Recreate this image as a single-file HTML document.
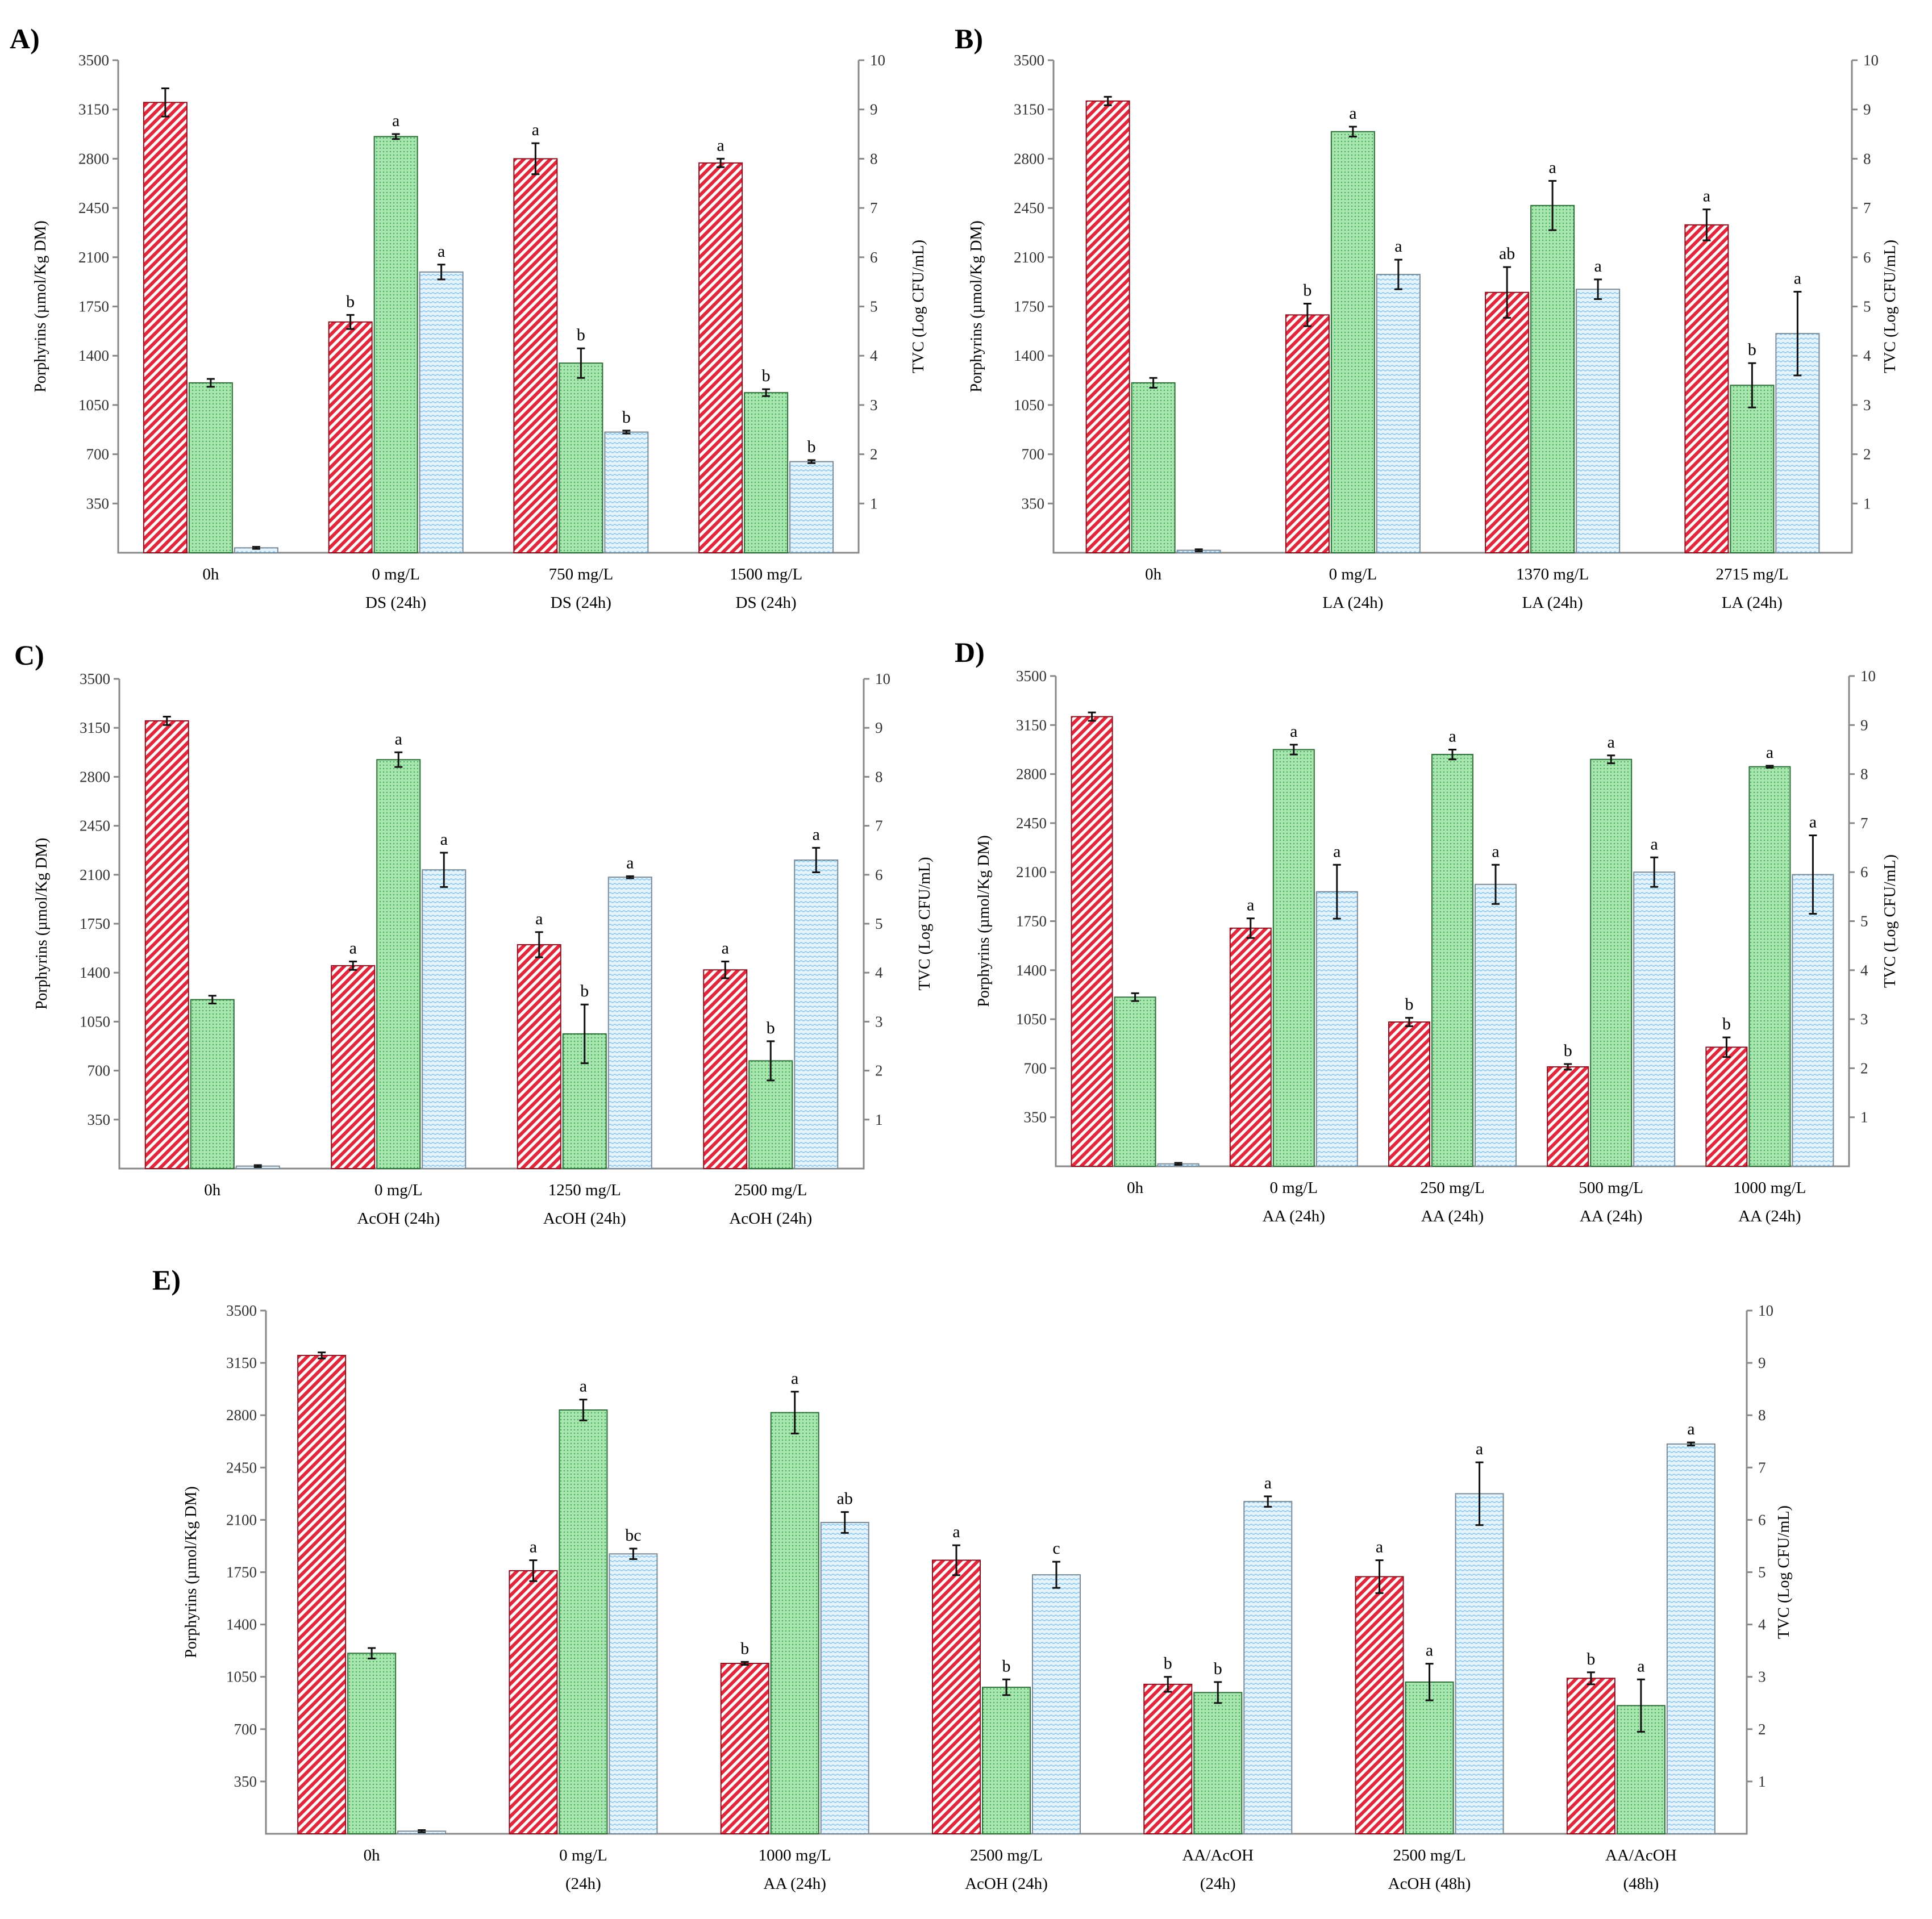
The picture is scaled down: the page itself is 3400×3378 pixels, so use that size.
<!DOCTYPE html>
<html><head><meta charset="utf-8"><style>
html,body{margin:0;padding:0;background:#fff;}
svg{display:block;font-family:"Liberation Serif",serif;}
</style></head>
<body>
<svg id="fig" width="3400" height="3378" viewBox="0 0 3400 3378" xmlns="http://www.w3.org/2000/svg">
<defs>
<pattern id="pRed" patternUnits="userSpaceOnUse" width="11" height="11" patternTransform="rotate(45)">
<rect width="11" height="11" fill="#fff"/><rect width="6" height="11" fill="#e0283c"/></pattern>
<pattern id="pGreen" patternUnits="userSpaceOnUse" width="6" height="6">
<rect width="6" height="6" fill="#a8e6b0"/><circle cx="3" cy="3" r="1.2" fill="#4aa85a"/></pattern>
<pattern id="pBlue" patternUnits="userSpaceOnUse" width="8" height="8">
<rect width="8" height="8" fill="#e4f3fc"/><path d="M0 4 Q2 2 4 4 T8 4" stroke="#7fc3ee" stroke-width="1.4" fill="none"/></pattern>
</defs>
</svg>
<script>
// Panel A
const catsA=[["0h"],["0 mg/L","DS (24h)"],["750 mg/L","DS (24h)"],["1500 mg/L","DS (24h)"]];
const redA=[3200,1640,2800,2770];
const greenA=[3.45,8.45,3.85,3.25];
const blueA=[0.1,5.7,2.45,1.85];
const redErrA=[100,50,110,30];
const greenErrA=[0.08,0.05,0.3,0.07];
const blueErrA=[0.02,0.15,0.03,0.03];
const redLetA=["","b","a","a"];
const greenLetA=["","a","b","b"];
const blueLetA=["","a","b","b"];
// Panel B
const catsB=[["0h"],["0 mg/L","LA (24h)"],["1370 mg/L","LA (24h)"],["2715 mg/L","LA (24h)"]];
const redB=[3210,1690,1850,2330];
const greenB=[3.45,8.55,7.05,3.4];
const blueB=[0.05,5.65,5.35,4.45];
const redErrB=[30,80,180,110];
const greenErrB=[0.1,0.1,0.5,0.45];
const blueErrB=[0.02,0.3,0.2,0.85];
const redLetB=["","b","ab","a"];
const greenLetB=["","a","a","b"];
const blueLetB=["","a","a","a"];
// Panel C
const catsC=[["0h"],["0 mg/L","AcOH (24h)"],["1250 mg/L","AcOH (24h)"],["2500 mg/L","AcOH (24h)"]];
const redC=[3200,1450,1600,1420];
const greenC=[3.45,8.35,2.75,2.2];
const blueC=[0.05,6.1,5.95,6.3];
const redErrC=[30,30,90,60];
const greenErrC=[0.08,0.15,0.6,0.4];
const blueErrC=[0.02,0.35,0.02,0.25];
const redLetC=["","a","a","a"];
const greenLetC=["","a","b","b"];
const blueLetC=["","a","a","a"];
// Panel D
const catsD=[["0h"],["0 mg/L","AA (24h)"],["250 mg/L","AA (24h)"],["500 mg/L","AA (24h)"],["1000 mg/L","AA (24h)"]];
const redD=[3210,1700,1030,710,850];
const greenD=[3.45,8.5,8.4,8.3,8.15];
const blueD=[0.05,5.6,5.75,6.0,5.95];
const redErrD=[30,70,30,20,70];
const greenErrD=[0.08,0.1,0.1,0.08,0.02];
const blueErrD=[0.02,0.55,0.4,0.3,0.8];
const redLetD=["","a","b","b","b"];
const greenLetD=["","a","a","a","a"];
const blueLetD=["","a","a","a","a"];
// Panel E
const catsE=[["0h"],["0 mg/L","(24h)"],["1000 mg/L","AA (24h)"],["2500 mg/L","AcOH (24h)"],["AA/AcOH","(24h)"],["2500 mg/L","AcOH (48h)"],["AA/AcOH","(48h)"]];
const redE=[3200,1760,1140,1830,1000,1720,1040];
const greenE=[3.45,8.1,8.05,2.8,2.7,2.9,2.45];
const blueE=[0.05,5.35,5.95,4.95,6.35,6.5,7.45];
const redErrE=[20,70,10,100,50,110,40];
const greenErrE=[0.1,0.2,0.4,0.15,0.2,0.35,0.5];
const blueErrE=[0.02,0.1,0.2,0.25,0.1,0.6,0.03];
const redLetE=["","a","b","a","b","a","b"];
const greenLetE=["","a","a","b","b","a","a"];
const blueLetE=["","bc","ab","c","a","a","a"];

const leftTicks=[350,700,1050,1400,1750,2100,2450,2800,3150,3500];
const rightTicks=[1,2,3,4,5,6,7,8,9,10];

const NS="http://www.w3.org/2000/svg";
const svg=document.getElementById("fig");
function mk(tag,attrs,parent,text){const e=document.createElementNS(NS,tag);for(const k in attrs)e.setAttribute(k,attrs[k]);if(text!==undefined)e.textContent=text;(parent||svg).appendChild(e);return e;}

function panel(p){
  const g=mk("g",{});
  
  
  const yL=v=>p.base-(v/3500)*(p.base-p.top);
  const yR=v=>p.base-(v/10)*(p.base-p.top);
  const lab=mk("text",{x:p.labX,y:p.labY,"font-size":50,"font-weight":"bold"},g,p.id+")");
  
  
  const ax=mk("path",{d:`M${p.left} ${p.top}V${p.base}H${p.right}V${p.top}`,stroke:"#888",fill:"none","stroke-width":3},g);
  
  
  leftTicks.forEach(t=>{
    const y=yL(t);
    mk("line",{x1:p.left-10,x2:p.left,y1:y,y2:y,stroke:"#888","stroke-width":3},g);
    const tx=mk("text",{x:p.left-16,y:y+9,"font-size":27,"text-anchor":"end",fill:"#333"},g,t);
    
    
  });
  rightTicks.forEach(t=>{
    const y=yR(t);
    mk("line",{x1:p.right,x2:p.right+10,y1:y,y2:y,stroke:"#888","stroke-width":3},g);
    const tx=mk("text",{x:p.right+20,y:y+9,"font-size":27,fill:"#333"},g,t);
    
    
  });
  const mid=(p.top+p.base)/2;
  const lt=mk("text",{x:0,y:0,"font-size":28,"text-anchor":"middle",transform:`translate(${p.ylX},${mid}) rotate(-90)`},g,"Porphyrins (µmol/Kg DM)");
  
  
  const rt=mk("text",{x:0,y:0,"font-size":28,"text-anchor":"middle",transform:`translate(${p.yrX},${mid}) rotate(-90)`},g,"TVC (Log CFU/mL)");
  
  
  const n=p.cats.length;
  const step=(p.right-p.left)/n;
  const bw=p.bw;
  const series=[
    {v:p.red,e:p.redErr,l:p.redLet,fill:"url(#pRed)",stroke:"#8a1020",y:yL,name:"porphyrins-bar"},
    {v:p.green,e:p.greenErr,l:p.greenLet,fill:"url(#pGreen)",stroke:"#2e6e38",y:yR,name:"tvc-24h-bar"},
    {v:p.blue,e:p.blueErr,l:p.blueLet,fill:"url(#pBlue)",stroke:"#7a8a96",y:yR,name:"tvc-bar"}
  ];
  for(let i=0;i<n;i++){
    const cx=p.left+step*(i+0.5);
    series.forEach((s,k)=>{
      const x=cx+(k-1.5)*bw+(k-1)*4;
      const y=s.y(s.v[i]);
      const r=mk("rect",{x:x,y:y,width:bw,height:p.base-y,fill:s.fill,stroke:s.stroke,"stroke-width":2},g);
      
      
      const ex=x+bw/2;
      const yt=s.y(s.v[i]+s.e[i]), yb=s.y(s.v[i]-s.e[i]);
      const eb=mk("path",{d:`M${ex-7} ${yt}H${ex+7}M${ex} ${yt}V${yb}M${ex-7} ${yb}H${ex+7}`,stroke:"#111","stroke-width":3,fill:"none"},g);
      
      
      if(s.l[i]){
        const lt2=mk("text",{x:ex,y:yt-14,"font-size":30,"text-anchor":"middle"},g,s.l[i]);
        
        
      }
    });
    p.cats[i].forEach((line,j)=>{
      const ct=mk("text",{x:cx,y:p.base+47+j*50,"font-size":29,"text-anchor":"middle"},g,line);
      
      
    });
  }
}
panel({id:"A",left:208,right:1511,top:106,base:973,labX:17,labY:85,ylX:80,yrX:1625,bw:76,cats:catsA,red:redA,green:greenA,blue:blueA,redErr:redErrA,greenErr:greenErrA,blueErr:blueErrA,redLet:redLetA,greenLet:greenLetA,blueLet:blueLetA});
panel({id:"B",left:1854,right:3259,top:106,base:973,labX:1680,labY:85,ylX:1727,yrX:3335,bw:76,cats:catsB,red:redB,green:greenB,blue:blueB,redErr:redErrB,greenErr:greenErrB,blueErr:blueErrB,redLet:redLetB,greenLet:greenLetB,blueLet:blueLetB});
panel({id:"C",left:210,right:1520,top:1195,base:2057,labX:25,labY:1170,ylX:82,yrX:1636,bw:76,cats:catsC,red:redC,green:greenC,blue:blueC,redErr:redErrC,greenErr:greenErrC,blueErr:blueErrC,redLet:redLetC,greenLet:greenLetC,blueLet:blueLetC});
panel({id:"D",left:1858,right:3254,top:1190,base:2053,labX:1680,labY:1165,ylX:1740,yrX:3335,bw:72,cats:catsD,red:redD,green:greenD,blue:blueD,redErr:redErrD,greenErr:greenErrD,blueErr:blueErrD,redLet:redLetD,greenLet:greenLetD,blueLet:blueLetD});
panel({id:"E",left:468,right:3074,top:2307,base:3228,labX:268,labY:2270,ylX:345,yrX:3148,bw:84,cats:catsE,red:redE,green:greenE,blue:blueE,redErr:redErrE,greenErr:greenErrE,blueErr:blueErrE,redLet:redLetE,greenLet:greenLetE,blueLet:blueLetE});
</script>
</body></html>
